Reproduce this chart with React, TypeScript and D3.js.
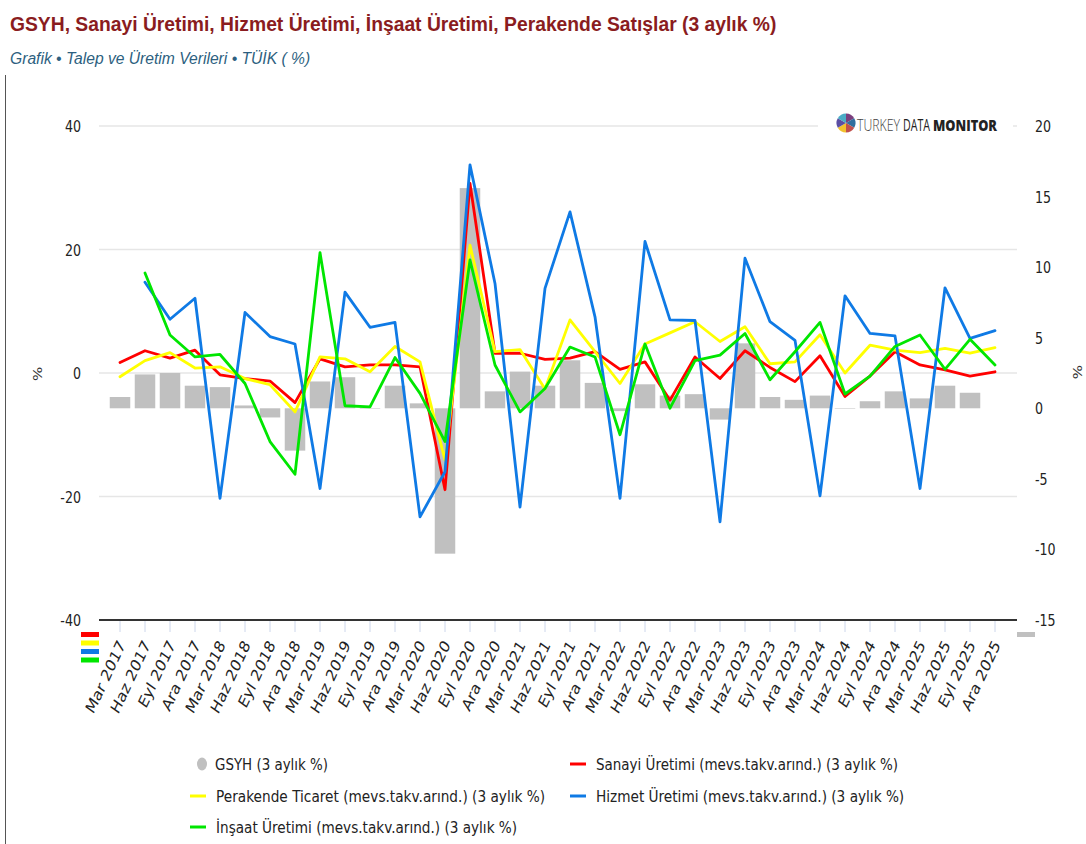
import React, { useLayoutEffect, useRef, useState } from "react";
import * as d3 from "d3";

const categories = [
  "Mar 2017", "Haz 2017", "Eyl 2017", "Ara 2017",
  "Mar 2018", "Haz 2018", "Eyl 2018", "Ara 2018",
  "Mar 2019", "Haz 2019", "Eyl 2019", "Ara 2019",
  "Mar 2020", "Haz 2020", "Eyl 2020", "Ara 2020",
  "Mar 2021", "Haz 2021", "Eyl 2021", "Ara 2021",
  "Mar 2022", "Haz 2022", "Eyl 2022", "Ara 2022",
  "Mar 2023", "Haz 2023", "Eyl 2023", "Ara 2023",
  "Mar 2024", "Haz 2024", "Eyl 2024", "Ara 2024",
  "Mar 2025", "Haz 2025", "Eyl 2025", "Ara 2025",
];

// GSYH (right axis)
const gsyh: (number | null)[] = [
  0.8, 2.4, 2.5, 1.6, 1.5, 0.2, -0.65, -3.0, 1.9, 2.2, 0.0, 1.6,
  0.35, -10.3, 15.6, 1.2, 2.6, 1.6, 3.4, 1.8, -0.2, 1.7, 0.9, 1.0,
  -0.8, 4.6, 0.8, 0.6, 0.9, 0.0, 0.5, 1.2, 0.7, 1.6, 1.1, null,
];
// Left axis series
const sanayi: (number | null)[] = [
  1.7, 3.6, 2.4, 3.7, -0.3, -0.9, -1.3, -4.8, 2.3, 1.0, 1.3, 1.3,
  1.0, -18.9, 30.7, 3.2, 3.2, 2.2, 2.4, 3.45, 0.6, 1.8, -4.4, 2.6,
  -0.9, 3.6, 0.9, -1.4, 2.8, -3.8, -0.5, 3.45, 1.3, 0.5, -0.5, 0.2,
];
const perakende: (number | null)[] = [
  -0.6, 2.0, 3.3, 0.8, 1.0, -0.9, -1.9, -6.3, 2.6, 2.3, 0.2, 4.3,
  1.8, -14.1, 20.7, 3.45, 3.8, -2.6, 8.6, 3.45, -1.7, 4.7, 6.5, 8.3,
  5.1, 7.5, 1.5, 1.8, 6.2, 0.0, 4.5, 3.7, 3.3, 4.0, 3.2, 4.1,
];
const hizmet: (number | null)[] = [
  null, 14.7, 8.7, 12.1, -20.3, 9.8, 5.9, 4.7, -18.7, 13.1, 7.4, 8.2,
  -23.3, -16.0, 33.7, 14.5, -21.7, 13.7, 26.1, 9.1, -20.3, 21.3, 8.6, 8.5,
  -24.1, 18.6, 8.3, 5.3, -19.9, 12.5, 6.4, 6.0, -18.7, 13.8, 5.6, 6.85,
];
const insaat: (number | null)[] = [
  null, 16.2, 6.15, 2.6, 3.0, -1.7, -11.1, -16.4, 19.5, -5.3, -5.5, 2.5,
  -3.3, -11.1, 18.3, 1.3, -6.3, -2.5, 4.2, 2.6, -10.0, 4.7, -5.7, 2.0,
  2.9, 6.4, -1.1, 3.45, 8.2, -3.4, -0.5, 4.3, 6.15, 0.6, 5.45, 1.3,
];

const leftTicks = [40, 20, 0, -20, -40];
const rightTicks = [20, 15, 10, 5, 0, -5, -10, -15];

const lineNames = [
  "Sanayi Üretimi (mevs.takv.arınd.) (3 aylık %)",
  "Perakende Ticaret (mevs.takv.arınd.) (3 aylık %)",
  "Hizmet Üretimi (mevs.takv.arınd.) (3 aylık %)",
  "İnşaat Üretimi (mevs.takv.arınd.) (3 aylık %)",
];
const lineColors = ["#ff0000", "#ffff00", "#0f7ae5", "#00e600"];
const lineValues = [sanayi, perakende, hizmet, insaat];
const barName = "GSYH (3 aylık %)";
const barColor = "#c0c0c0";

const logoSlices = [1, 1, 1, 1, 1, 1];
const logoColors = ["#5b4ea3", "#4bacc6", "#9bbb59", "#7b3f7e", "#2f6f9f", "#c0504d", "#f2c12e"];

const FONT = "'DejaVu Sans', sans-serif";
const K = 0.79;

// Text squeezed horizontally to fit a target width (measured after render).
function FitText(props: {
  x: number; y: number; w: number; children: string;
  fontFamily: string; fontSize: number; fontWeight?: any; fontStyle?: string; fill: string;
}) {
  const ref = useRef<SVGTextElement>(null);
  const [sx, setSx] = useState(0.8);
  useLayoutEffect(() => {
    if (ref.current) {
      const len = ref.current.getComputedTextLength();
      if (len > 0) setSx(props.w / len);
    }
  }, [props.w, props.children]);
  return (
    <text
      ref={ref}
      transform={`translate(${props.x},${props.y}) scale(${sx},1)`}
      fontFamily={props.fontFamily}
      fontSize={props.fontSize}
      fontWeight={props.fontWeight}
      fontStyle={props.fontStyle}
      fill={props.fill}
    >
      {props.children}
    </text>
  );
}

export default function App() {
  const PL = 99, PR = 1017, PT = 126, PB = 620;
  const x = d3.scalePoint<string>().domain(categories).range([120, 995]);
  const yL = d3.scaleLinear().domain([-40, 40]).range([PB, PT]);
  const yR = d3.scaleLinear().domain([-15, 20]).range([PB, PT]);
  const barW = 20.5;

  const mkLine = (vals: (number | null)[]) =>
    d3
      .line<number | null>()
      .defined((d) => d != null)
      .x((_, i) => x(categories[i])!)
      .y((d) => yL(d as number))(vals) || "";

  const pie = d3.pie<number>().sort(null).value((d) => d)(logoSlices);
  const arc = d3.arc<d3.PieArcDatum<number>>().innerRadius(0).outerRadius(9.5);

  const legendItems = [
    { kind: "bar", name: barName, color: barColor, x: 202, y: 764, w: 113 },
    { kind: "line", name: lineNames[0], color: lineColors[0], x: 578, y: 764, w: 302 },
    { kind: "line", name: lineNames[1], color: lineColors[1], x: 198, y: 796, w: 329 },
    { kind: "line", name: lineNames[2], color: lineColors[2], x: 578, y: 796, w: 308 },
    { kind: "line", name: lineNames[3], color: lineColors[3], x: 198, y: 827, w: 301 },
  ];

  const logoParts = [
    { t: "TURKEY", x: 857, w: 43, wt: 300, c: "#444" },
    { t: "DATA", x: 903, w: 27, wt: 500, c: "#222" },
    { t: "MONITOR", x: 933, w: 64, wt: 800, c: "#222" },
  ];

  return (
    <svg
      width={1086}
      height={844}
      style={{ position: "absolute", left: 0, top: 0, display: "block", background: "#fff" }}
    >
      <rect x={0} y={0} width={1086} height={844} fill="#fff" />
      <line x1={5.5} y1={75} x2={5.5} y2={844} stroke="#555" strokeWidth={1} />

      {/* Title */}
      <FitText x={10} y={31} w={766} fontFamily="'Liberation Sans', Arial, sans-serif" fontWeight="bold" fontSize={21} fill="#8a1c20">
        GSYH, Sanayi Üretimi, Hizmet Üretimi, İnşaat Üretimi, Perakende Satışlar (3 aylık %)
      </FitText>
      <FitText x={10} y={64} w={300} fontFamily="'Liberation Sans', Arial, sans-serif" fontStyle="italic" fontSize={17} fill="#2d5f80">
        Grafik • Talep ve Üretim Verileri • TÜİK ( %)
      </FitText>

      {/* gridlines */}
      {leftTicks
        .filter((t) => t !== -40)
        .map((t) => (
          <line key={t} x1={PL} x2={PR} y1={yL(t)} y2={yL(t)} stroke="#e6e6e6" strokeWidth={1.5} />
        ))}

      {/* logo */}
      <rect x={818} y={110} width={195} height={30} fill="#fff" />
      <g transform="translate(846,123)">
        {pie.map((p, i) => (
          <path key={i} d={arc(p) || ""} fill={logoColors[(i + 3) % logoColors.length]} />
        ))}
      </g>
      {logoParts.map((p) => (
        <FitText key={p.t} x={p.x} y={131} w={p.w} fontFamily="'Open Sans', 'DejaVu Sans', sans-serif" fontSize={16} fontWeight={p.wt} fill={p.c}>
          {p.t}
        </FitText>
      ))}

      {/* bars */}
      {gsyh.map((v, i) =>
        v == null ? null : (
          <rect
            key={i}
            x={x(categories[i])! - barW / 2}
            y={Math.min(yR(v), yR(0))}
            width={barW}
            height={Math.max(Math.abs(yR(v) - yR(0)), 0.5)}
            fill={barColor}
          />
        )
      )}

      {/* lines */}
      {lineValues.map((vals, k) => (
        <path
          key={k}
          d={mkLine(vals)}
          fill="none"
          stroke={lineColors[k]}
          strokeWidth={2.8}
          strokeLinejoin="round"
          strokeLinecap="round"
        />
      ))}

      {/* x axis */}
      {categories.map((c) => (
        <line key={c} x1={x(c)!} x2={x(c)!} y1={621} y2={632} stroke="#ccd6eb" strokeWidth={1} />
      ))}
      <line x1={PL} x2={PR} y1={PB} y2={PB} stroke="#333" strokeWidth={2} />
      {categories.map((c) => (
        <text
          key={c}
          transform={`translate(${x(c)! + 6},${645}) scale(0.81,1) rotate(-60)`}
          textAnchor="end"
          fontFamily={FONT}
          fontSize={17}
          fill="#222"
        >
          {c}
        </text>
      ))}

      {/* left axis labels */}
      {leftTicks.map((t) => (
        <text
          key={t}
          transform={`translate(81,${yL(t) + 6}) scale(${K},1)`}
          textAnchor="end"
          fontFamily={FONT}
          fontSize={16}
          fill="#222"
        >
          {t}
        </text>
      ))}
      <text transform={`translate(42,374) scale(${K},1) rotate(-90)`} textAnchor="middle" fontFamily={FONT} fontSize={15} fill="#333">
        %
      </text>

      {/* right axis labels */}
      {rightTicks.map((t) => (
        <text
          key={t}
          transform={`translate(1035,${yR(t) + 6}) scale(${K},1)`}
          textAnchor="start"
          fontFamily={FONT}
          fontSize={16}
          fill="#222"
        >
          {t}
        </text>
      ))}
      <text transform={`translate(1073,372) scale(${K},1) rotate(90)`} textAnchor="middle" fontFamily={FONT} fontSize={15} fill="#333">
        %
      </text>

      {/* stray series markers */}
      {lineColors.map((c, i) => (
        <rect key={c} x={81} y={632 + i * 8.5} width={18} height={5} fill={c} />
      ))}
      <rect x={1017} y={632} width={18} height={5} fill={barColor} />

      {/* legend */}
      {legendItems.map((it) => (
        <g key={it.name}>
          {it.kind === "bar" ? (
            <ellipse cx={it.x} cy={it.y} rx={5} ry={6.5} fill={it.color} />
          ) : (
            <line x1={it.x - 8} x2={it.x + 8} y1={it.y} y2={it.y} stroke={it.color} strokeWidth={3} />
          )}
          <FitText
            x={it.kind === "bar" ? 215 : it.x + 18}
            y={it.y + 6}
            w={it.w}
            fontFamily={FONT}
            fontSize={16}
            fill="#222"
          >
            {it.name}
          </FitText>
        </g>
      ))}
    </svg>
  );
}
